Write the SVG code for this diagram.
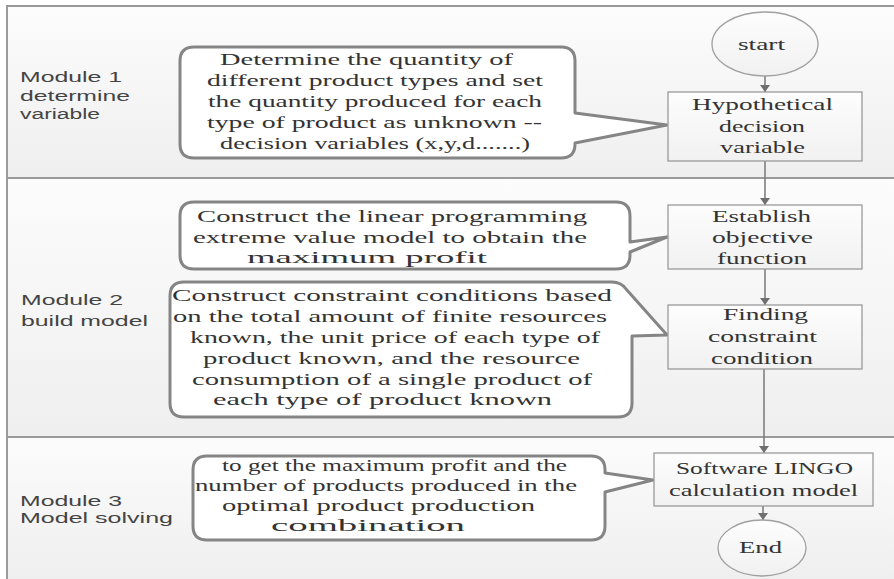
<svg xmlns="http://www.w3.org/2000/svg" width="894" height="579" viewBox="0 0 894 579">
<style>
.s{font-family:"Liberation Serif","Times New Roman",serif;font-size:17.5px;fill:#333}
.s4{font-size:16px}
.m{font-family:"Liberation Sans",Arial,sans-serif;font-size:15.5px;fill:#444}
.box{fill:url(#boxg);stroke:#9a9a9a;stroke-width:1.3}
.ell{fill:url(#boxg);stroke:#a0a0a0;stroke-width:1.3}
.call{fill:#fff;stroke:#858585;stroke-width:3;stroke-linejoin:round}
.conn{stroke:#7f7f7f;stroke-width:1.6;fill:none;marker-end:url(#arr)}
.band{stroke:none}
.div{stroke:#9a9a9a;stroke-width:2;fill:none}
</style>
<defs>
<linearGradient id="bandg" x1="0" y1="0" x2="0" y2="1">
<stop offset="0" stop-color="#fcfcfc"/>
<stop offset="1" stop-color="#efefef"/>
</linearGradient>
<linearGradient id="boxg" x1="0" y1="0" x2="0" y2="1">
<stop offset="0" stop-color="#fdfdfd"/>
<stop offset="1" stop-color="#f1f1f1"/>
</linearGradient>
<marker id="arr" viewBox="0 0 7 10" refX="7" refY="5" markerWidth="7" markerHeight="10" markerUnits="userSpaceOnUse" orient="auto">
<path d="M0,0 L7,5 L0,10 Z" fill="#6f6f6f"/>
</marker>
</defs>

<rect x="0" y="0" width="894" height="579" fill="#ffffff"/>
<g id="frame">
<rect class="band" x="7" y="6" width="887" height="172" fill="url(#bandg)"/>
<rect class="band" x="7" y="178" width="887" height="259" fill="url(#bandg)"/>
<rect class="band" x="7" y="437" width="887" height="142" fill="url(#bandg)"/>
<path class="div" d="M7,579 V6 H894"/>
<path class="div" d="M7,178 H894 M7,437 H894"/>
</g>

<g id="module1">
<text class="m" x="20" y="82" textLength="102" lengthAdjust="spacingAndGlyphs">Module 1</text>
<text class="m" x="20" y="101" textLength="110" lengthAdjust="spacingAndGlyphs">determine</text>
<text class="m" x="20" y="119" textLength="80" lengthAdjust="spacingAndGlyphs">variable</text>
</g>
<g id="module2">
<text class="m" x="21" y="305" textLength="102" lengthAdjust="spacingAndGlyphs">Module 2</text>
<text class="m" x="21" y="326" textLength="127" lengthAdjust="spacingAndGlyphs">build model</text>
</g>
<g id="module3">
<text class="m" x="20" y="506" textLength="102" lengthAdjust="spacingAndGlyphs">Module 3</text>
<text class="m" x="20" y="523" textLength="153" lengthAdjust="spacingAndGlyphs">Model solving</text>
</g>

<g id="connectors">
<line class="conn" x1="765" y1="76" x2="765" y2="92"/>
<line class="conn" x1="765" y1="161" x2="765" y2="205"/>
<line class="conn" x1="765" y1="269" x2="765" y2="305"/>
<line class="conn" x1="764" y1="369" x2="764" y2="453"/>
<line class="conn" x1="763" y1="506" x2="763" y2="520"/>
</g>

<g id="callout1">
<path class="call" d="M194,47 H561 Q575,47 575,61 V113 L667,125 L575,143 V144 Q575,158 561,158 H194 Q180,158 180,144 V61 Q180,47 194,47 Z"/>
<text class="s" x="220" y="65" textLength="293" lengthAdjust="spacingAndGlyphs">Determine the quantity of</text>
<text class="s" x="207" y="86" textLength="336" lengthAdjust="spacingAndGlyphs">different product types and set</text>
<text class="s" x="208" y="107" textLength="334" lengthAdjust="spacingAndGlyphs">the quantity produced for each</text>
<text class="s" x="207" y="128" textLength="335" lengthAdjust="spacingAndGlyphs">type of product as unknown --</text>
<text class="s" x="220" y="149" textLength="310" lengthAdjust="spacingAndGlyphs">decision variables (x,y,d.......)</text>
</g>

<g id="callout2">
<path class="call" d="M194,202 H616 Q630,202 630,216 V242 L667,237 L630,252 V255 Q630,269 616,269 H194 Q180,269 180,255 V216 Q180,202 194,202 Z"/>
<text class="s" x="197" y="222" textLength="390" lengthAdjust="spacingAndGlyphs">Construct the linear programming</text>
<text class="s" x="193" y="243" textLength="394" lengthAdjust="spacingAndGlyphs">extreme value model to obtain the</text>
<text class="s" x="247" y="263" textLength="240" lengthAdjust="spacingAndGlyphs">maximum profit</text>
</g>

<g id="callout3">
<path class="call" d="M184,282 H612 Q621,282 626,289 L667,335 L632,336 V403 Q632,417 618,417 H184 Q170,417 170,403 V296 Q170,282 184,282 Z"/>
<text class="s" x="172" y="301" textLength="440" lengthAdjust="spacingAndGlyphs">Construct constraint conditions based</text>
<text class="s" x="173" y="322" textLength="434" lengthAdjust="spacingAndGlyphs">on the total amount of finite resources</text>
<text class="s" x="190" y="343" textLength="410" lengthAdjust="spacingAndGlyphs">known, the unit price of each type of</text>
<text class="s" x="203" y="364" textLength="377" lengthAdjust="spacingAndGlyphs">product known, and the resource</text>
<text class="s" x="192" y="385" textLength="400" lengthAdjust="spacingAndGlyphs">consumption of a single product of</text>
<text class="s" x="213" y="405" textLength="339" lengthAdjust="spacingAndGlyphs">each type of product known</text>
</g>

<g id="callout4">
<path class="call" d="M207,456 H591 Q605,456 605,470 V473 L653,480 L605,492 V526 Q605,540 591,540 H207 Q193,540 193,526 V470 Q193,456 207,456 Z"/>
<text class="s s4" x="222" y="471" textLength="345" lengthAdjust="spacingAndGlyphs">to get the maximum profit and the</text>
<text class="s s4" x="195" y="491" textLength="382" lengthAdjust="spacingAndGlyphs">number of products produced in the</text>
<text class="s s4" x="222" y="511" textLength="313" lengthAdjust="spacingAndGlyphs">optimal product production</text>
<text class="s s4" x="271" y="531" textLength="194" lengthAdjust="spacingAndGlyphs">combination</text>
</g>

<g id="start">
<ellipse class="ell" cx="765" cy="44" rx="53" ry="32"/>
<text class="s" x="738" y="50" textLength="47" lengthAdjust="spacingAndGlyphs">start</text>
</g>
<g id="hypothetical">
<rect class="box" x="668" y="92" width="194" height="69"/>
<text class="s" x="692" y="110" textLength="141" lengthAdjust="spacingAndGlyphs">Hypothetical</text>
<text class="s" x="719" y="132" textLength="86" lengthAdjust="spacingAndGlyphs">decision</text>
<text class="s" x="720" y="153" textLength="85" lengthAdjust="spacingAndGlyphs">variable</text>
</g>
<g id="establish">
<rect class="box" x="668" y="205" width="194" height="64"/>
<text class="s" x="712" y="222" textLength="99" lengthAdjust="spacingAndGlyphs">Establish</text>
<text class="s" x="712" y="243" textLength="101" lengthAdjust="spacingAndGlyphs">objective</text>
<text class="s" x="717" y="264" textLength="90" lengthAdjust="spacingAndGlyphs">function</text>
</g>
<g id="finding">
<rect class="box" x="668" y="305" width="194" height="64"/>
<text class="s" x="723" y="320" textLength="85" lengthAdjust="spacingAndGlyphs">Finding</text>
<text class="s" x="708" y="342" textLength="109" lengthAdjust="spacingAndGlyphs">constraint</text>
<text class="s" x="711" y="364" textLength="102" lengthAdjust="spacingAndGlyphs">condition</text>
</g>
<g id="lingo">
<rect class="box" x="654" y="453" width="219" height="53"/>
<text class="s" x="676" y="474" textLength="177" lengthAdjust="spacingAndGlyphs">Software LINGO</text>
<text class="s" x="669" y="496" textLength="189" lengthAdjust="spacingAndGlyphs">calculation model</text>
</g>
<g id="end">
<ellipse class="ell" cx="762" cy="548" rx="44" ry="28"/>
<text class="s" x="739" y="553" textLength="43" lengthAdjust="spacingAndGlyphs">End</text>
</g>
</svg>
